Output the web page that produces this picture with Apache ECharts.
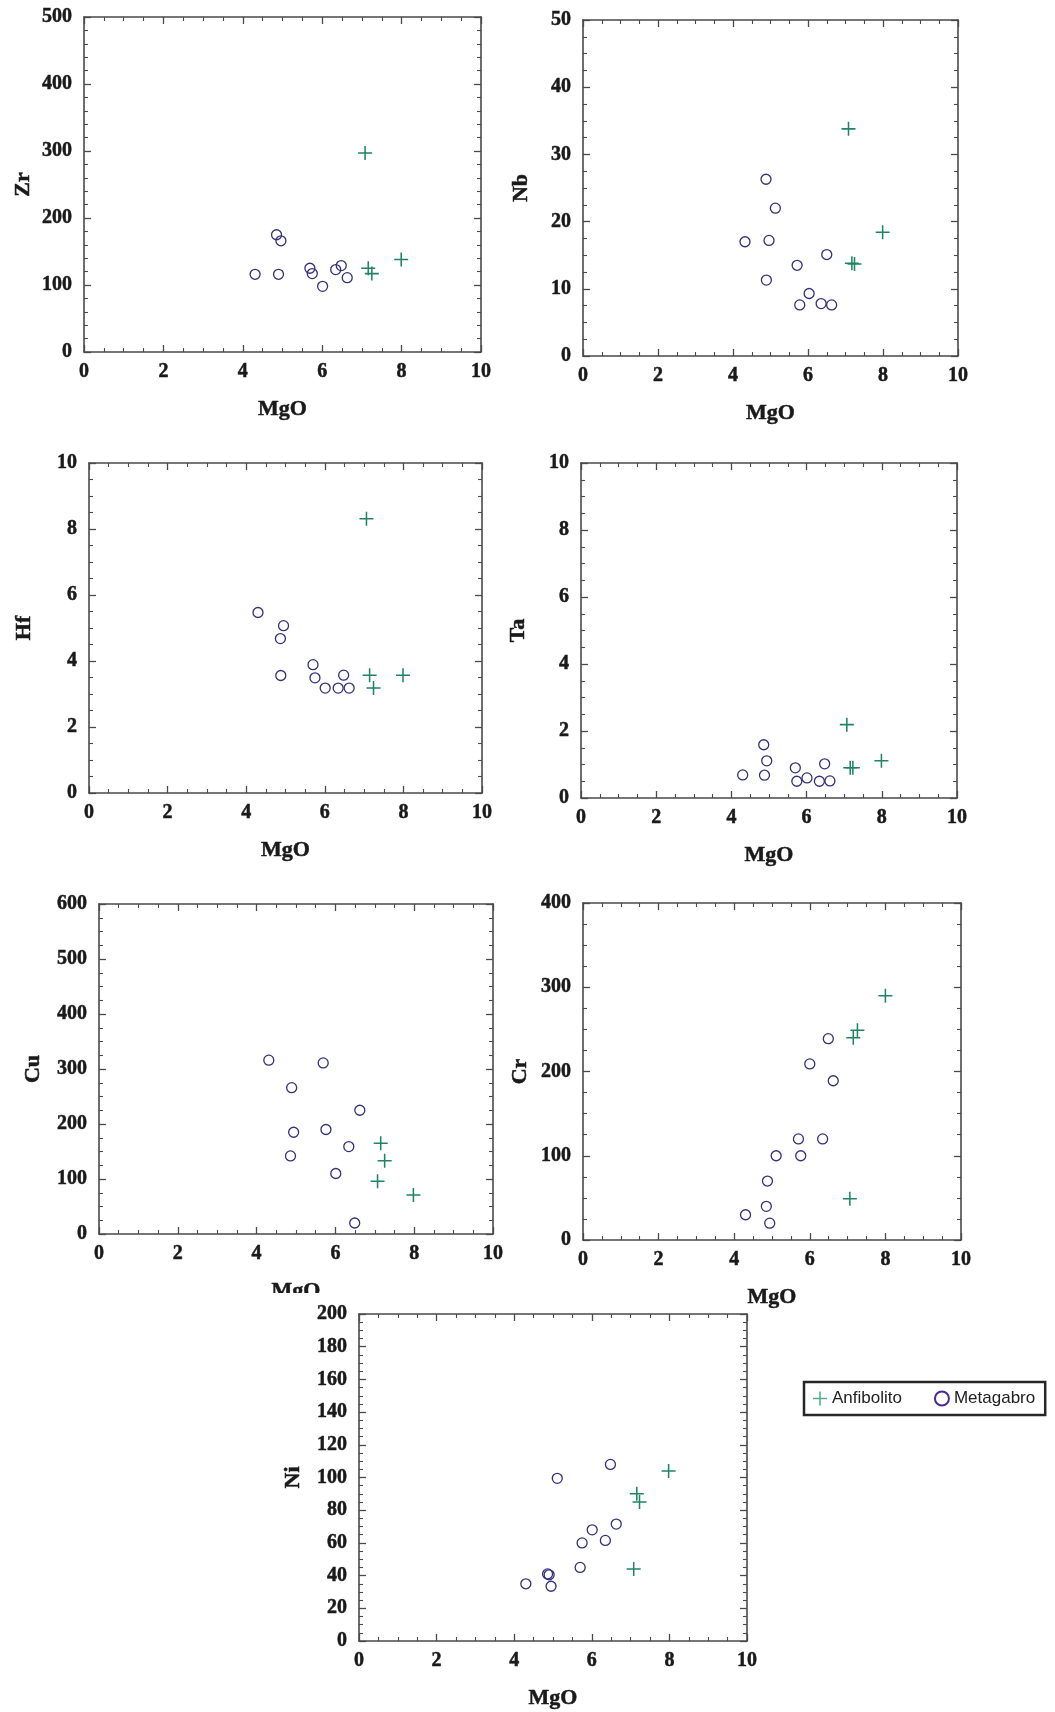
<!DOCTYPE html>
<html>
<head>
<meta charset="utf-8">
<script src="https://cdn.jsdelivr.net/npm/echarts@6/dist/echarts.min.js"></script>
<style>
html,body{margin:0;padding:0;background:#fff;}
#c{width:1055px;height:1712px;}
</style>
</head>
<body>
<div id="c"></div>
<script>
// ---------------- DATA ----------------
const seriesNames = ['Anfibolito', 'Metagabro'];
const xName = 'MgO';

// Zr vs MgO
const zrMetaMgO = [4.31, 4.85, 4.96, 4.90, 5.69, 5.75, 6.01, 6.34, 6.48, 6.63];
const zrMetaVal = [116, 175, 166, 116, 125, 117, 98, 123, 129, 111];
const zrAnfMgO  = [7.08, 7.16, 7.25, 7.99];
const zrAnfVal  = [297, 125, 117, 138];

// Nb vs MgO
const nbMetaMgO = [4.32, 4.88, 5.13, 4.96, 4.89, 5.71, 5.78, 6.03, 6.35, 6.63, 6.50];
const nbMetaVal = [17.0, 26.3, 22.0, 17.2, 11.3, 13.5, 7.6, 9.3, 7.8, 7.6, 15.1];
const nbAnfMgO  = [7.08, 7.17, 7.24, 7.99];
const nbAnfVal  = [33.8, 13.8, 13.7, 18.4];

// Hf vs MgO
const hfMetaMgO = [4.30, 4.87, 4.95, 4.88, 5.70, 5.75, 6.01, 6.34, 6.48, 6.62];
const hfMetaVal = [5.47, 4.68, 5.07, 3.56, 3.89, 3.49, 3.18, 3.18, 3.57, 3.18];
const hfAnfMgO  = [7.06, 7.14, 7.24, 7.99];
const hfAnfVal  = [8.31, 3.57, 3.18, 3.57];

// Ta vs MgO
const taMetaMgO = [4.30, 4.86, 4.94, 4.88, 5.70, 5.74, 6.01, 6.34, 6.48, 6.62];
const taMetaVal = [0.69, 1.59, 1.11, 0.68, 0.90, 0.50, 0.60, 0.50, 1.02, 0.51];
const taAnfMgO  = [7.07, 7.16, 7.23, 7.99];
const taAnfVal  = [2.19, 0.90, 0.90, 1.11];

// Cu vs MgO
const cuMetaMgO = [4.31, 4.89, 4.94, 4.86, 5.69, 5.76, 6.01, 6.34, 6.49, 6.62];
const cuMetaVal = [316, 266, 185, 142, 311, 190, 110, 159, 20, 225];
const cuAnfMgO  = [7.15, 7.25, 7.07, 7.98];
const cuAnfVal  = [165, 133, 96, 71];

// Cr vs MgO
const crMetaMgO = [4.30, 4.85, 4.88, 4.94, 5.11, 5.70, 5.76, 6.00, 6.34, 6.49, 6.62];
const crMetaVal = [30, 40, 70, 20, 100, 120, 100, 209, 120, 239, 189];
const crAnfMgO  = [7.06, 7.15, 7.26, 8.00];
const crAnfVal  = [49, 240, 249, 290];

// Ni vs MgO
const niMetaMgO = [4.30, 4.86, 4.90, 4.95, 5.11, 5.70, 5.75, 6.01, 6.35, 6.48, 6.63];
const niMetaVal = [35, 41, 40.5, 33.5, 99.5, 45, 60, 68, 61.5, 108, 71.5];
const niAnfMgO  = [7.16, 7.23, 7.08, 7.98];
const niAnfVal  = [90, 85, 44, 104];

// Axis definitions (names and tick ranges)
const yNames     = ['Zr', 'Nb', 'Hf', 'Ta', 'Cu', 'Cr', 'Ni'];
const yMax       = [500, 50, 10, 10, 600, 400, 200];
const yInterval  = [100, 10, 2, 2, 100, 100, 20];
const yMinorSplit= [5, 4, 4, 4, 4, 4, 4];
const metaX = [zrMetaMgO, nbMetaMgO, hfMetaMgO, taMetaMgO, cuMetaMgO, crMetaMgO, niMetaMgO];
const metaY = [zrMetaVal, nbMetaVal, hfMetaVal, taMetaVal, cuMetaVal, crMetaVal, niMetaVal];
const anfX  = [zrAnfMgO, nbAnfMgO, hfAnfMgO, taAnfMgO, cuAnfMgO, crAnfMgO, niAnfMgO];
const anfY  = [zrAnfVal, nbAnfVal, hfAnfVal, taAnfVal, cuAnfVal, crAnfVal, niAnfVal];

// ---------------- LAYOUT ----------------
const layout = [
  {left: 84,  top: 17,   width: 397, height: 335, yGap: 50},
  {left: 583, top: 20,   width: 375, height: 336, yGap: 51},
  {left: 89,  top: 463,  width: 393, height: 330, yGap: 54},
  {left: 581, top: 463,  width: 376, height: 335, yGap: 52},
  {left: 99,  top: 904,  width: 394, height: 330, yGap: 55},
  {left: 583, top: 903,  width: 378, height: 337, yGap: 52},
  {left: 359, top: 1314, width: 388, height: 327, yGap: 55}
];

const crossPath = 'path://M4.45,0H5.55V4.45H10V5.55H5.55V10H4.45V5.55H0V4.45H4.45Z';
const axisColor = '#4a4a4a';
const serif = '"Liberation Serif", "Times New Roman", serif';
const anfColor = '#1f8560';
const metaColor = '#34307c';

const grids = [], xAxes = [], yAxes = [], series = [];

function pairs(xs, ys) { return xs.map((x, i) => [x, ys[i]]); }

layout.forEach((L, i) => {
  const z = (i === 6) ? 5 : 0;
  grids.push({left: L.left, top: L.top, width: L.width, height: L.height, containLabel: false, z: z});
  const common = {
    type: 'value', gridIndex: i, z: z,
    axisLine: {show: true, onZero: false, lineStyle: {color: axisColor, width: 1.6}},
    axisTick: {show: true, inside: true, length: 7, lineStyle: {color: axisColor, width: 1.3}},
    minorTick: {show: true, length: 4, lineStyle: {color: axisColor, width: 1.1}},
    splitLine: {show: false},
    minorSplitLine: {show: false}
  };
  const labelStyle = {fontFamily: serif, fontWeight: 'bold', fontSize: 20, color: '#1a1a1a',
                      textBorderColor: '#1a1a1a', textBorderWidth: 0.5};
  const nameStyle = {fontFamily: serif, fontWeight: 'bold', fontSize: 22, color: '#1a1a1a',
                     textBorderColor: '#1a1a1a', textBorderWidth: 0.5};
  xAxes.push(Object.assign({}, common, {
    position: 'bottom', min: 0, max: 10, interval: 2,
    minorTick: Object.assign({}, common.minorTick, {splitNumber: 4}),
    axisLabel: Object.assign({margin: 10}, labelStyle),
    name: xName, nameLocation: 'middle', nameGap: 46, nameTextStyle: nameStyle
  }));
  xAxes.push(Object.assign({}, common, {
    position: 'top', min: 0, max: 10, interval: 2,
    minorTick: Object.assign({}, common.minorTick, {splitNumber: 4}),
    axisLabel: {show: false}
  }));
  yAxes.push(Object.assign({}, common, {
    position: 'left', min: 0, max: yMax[i], interval: yInterval[i],
    minorTick: Object.assign({}, common.minorTick, {splitNumber: yMinorSplit[i]}),
    axisLabel: Object.assign({margin: 12}, labelStyle),
    name: yNames[i], nameLocation: 'middle', nameGap: L.yGap, nameTextStyle: nameStyle
  }));
  yAxes.push(Object.assign({}, common, {
    position: 'right', min: 0, max: yMax[i], interval: yInterval[i],
    minorTick: Object.assign({}, common.minorTick, {splitNumber: yMinorSplit[i]}),
    axisLabel: {show: false}
  }));
  series.push({
    name: seriesNames[0], type: 'scatter', xAxisIndex: 2 * i, yAxisIndex: 2 * i,
    data: pairs(anfX[i], anfY[i]), symbol: crossPath, symbolSize: 14,
    itemStyle: {color: anfColor, opacity: 1}, z: z + 3, silent: true
  });
  series.push({
    name: seriesNames[1], type: 'scatter', xAxisIndex: 2 * i, yAxisIndex: 2 * i,
    data: pairs(metaX[i], metaY[i]), symbol: 'circle', symbolSize: 10,
    itemStyle: {color: 'rgba(255,255,255,0)', borderColor: metaColor, borderWidth: 1.3, opacity: 1},
    z: z + 3, silent: true
  });
});

const option = {
  backgroundColor: '#ffffff',
  animation: false,
  grid: grids,
  xAxis: xAxes,
  yAxis: yAxes,
  series: series,
  legend: {
    left: 804, top: 1382,
    orient: 'horizontal',
    borderColor: '#262626', borderWidth: 2.5, borderRadius: 0,
    padding: [8, 10, 8, 9],
    itemGap: 32, itemWidth: 14, itemHeight: 14, itemTextGap: 9,
    textStyle: {fontFamily: '"Liberation Sans", Arial, sans-serif', fontSize: 17, color: '#222'},
    selectedMode: false,
    data: [
      {name: seriesNames[0], icon: crossPath, itemStyle: {color: '#4fae84'}},
      {name: seriesNames[1], icon: 'circle', itemStyle: {color: 'rgba(255,255,255,0)', borderColor: '#4a2a98', borderWidth: 2}}
    ]
  },
  graphic: [
    {type: 'rect', shape: {x: 250, y: 1293, width: 110, height: 13}, style: {fill: '#ffffff'}, z: 2}
  ]
};

const chart = echarts.init(document.getElementById('c'), null, {renderer: 'canvas'});
chart.setOption(option);
</script>
</body>
</html>
